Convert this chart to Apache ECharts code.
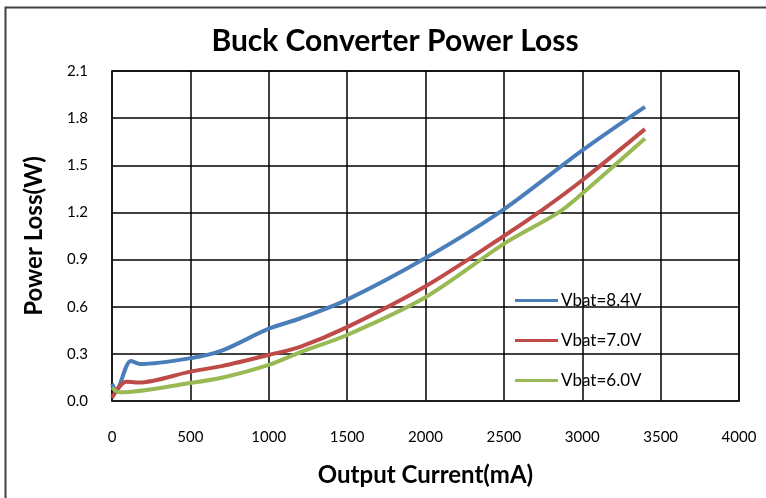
<!DOCTYPE html>
<html><head><meta charset="utf-8">
<script src="https://cdn.jsdelivr.net/npm/echarts@6/dist/echarts.min.js"></script>
<style>html,body{margin:0;padding:0;background:#fff}#c{width:766px;height:498px}</style>
</head><body><div id="c"></div>
<script>
var xTicks = [0,500,1000,1500,2000,2500,3000,3500,4000];
var yTicks = [0.0,0.3,0.6,0.9,1.2,1.5,1.8,2.1];
var seriesNames = ['Vbat=8.4V','Vbat=7.0V','Vbat=6.0V'];
var current84 = [0,25,120,180,500,700,1000,1200,1500,2000,2500,3000,3400];
var loss84    = [0.11,0.07,0.255,0.235,0.272,0.32,0.46,0.525,0.645,0.91,1.22,1.595,1.872];
var current70 = [0,90,170,500,700,1000,1200,1500,2000,2500,2750,3000,3400];
var loss70    = [0.02,0.123,0.117,0.187,0.222,0.293,0.345,0.47,0.73,1.05,1.22,1.405,1.73];
var current60 = [0,50,500,700,1000,1200,1500,2000,2500,2850,3000,3400];
var loss60    = [0.085,0.055,0.115,0.148,0.23,0.31,0.42,0.66,1.0,1.2,1.32,1.67];
var colors = ['#4A7EBB','#BE4B48','#98B954'];

function pairs(xs, ys){ return xs.map(function(x,i){return [x, ys[i]];}); }
var FONT = 'Lato, "Open Sans", sans-serif';
var chart = echarts.init(document.getElementById('c'), null, {renderer:'canvas'});
chart.setOption({
  animation:false,
  textStyle:{fontFamily:FONT},
  title:{text:'Buck Converter Power Loss', left:390, textAlign:'center', top:21,
    textStyle:{fontFamily:FONT, fontSize:30, fontWeight:'bold', color:'#000'}},
  graphic:[{type:'rect', shape:{x:5.5,y:7.5,width:900,height:700}, style:{fill:null, stroke:'#404040', lineWidth:2}, z:100}],
  grid:{left:112, right:27, top:71, bottom:97, show:true, borderColor:'#222', borderWidth:1.5},
  legend:{orient:'vertical', left:510, top:287, itemGap:23, itemWidth:43, itemHeight:15,
    icon:'path://M0,6L43,6L43,9L0,9Z',
    data:seriesNames, textStyle:{fontFamily:FONT, fontSize:17, color:'#000', padding:[0,0,0,-2]}},
  xAxis:{type:'value', min:0, max:4000, interval:500,
    axisLine:{show:true, lineStyle:{color:'#222', width:1.5}}, axisTick:{show:false},
    splitLine:{show:true, lineStyle:{color:'#000', width:1.5}},
    axisLabel:{margin:29, fontSize:15, color:'#000', fontFamily:FONT,
      formatter:function(v){return xTicks.indexOf(v)>=0 ? String(v) : '';}},
    name:'Output Current(mA)', nameLocation:'middle', nameGap:62,
    nameTextStyle:{fontFamily:FONT, fontSize:24, fontWeight:'bold', color:'#000'}},
  yAxis:{type:'value', min:0, max:2.1, interval:0.3,
    axisLine:{show:true, lineStyle:{color:'#222', width:1.5}}, axisTick:{show:false},
    splitLine:{show:true, lineStyle:{color:'#000', width:1.5}},
    axisLabel:{margin:24, fontSize:15, color:'#000', fontFamily:FONT,
      formatter:function(v){return v.toFixed(1);}},
    name:'Power Loss(W)', nameLocation:'middle', nameGap:66, nameRotate:90,
    nameTextStyle:{fontFamily:FONT, fontSize:24, fontWeight:'bold', color:'#000'}},
  series:[
    {name:seriesNames[0], type:'line', data:pairs(current84,loss84), smooth:0.3, showSymbol:false, lineStyle:{width:4, color:colors[0]}, itemStyle:{color:colors[0]}},
    {name:seriesNames[1], type:'line', data:pairs(current70,loss70), smooth:0.3, showSymbol:false, lineStyle:{width:4, color:colors[1]}, itemStyle:{color:colors[1]}},
    {name:seriesNames[2], type:'line', data:pairs(current60,loss60), smooth:0.3, showSymbol:false, lineStyle:{width:4, color:colors[2]}, itemStyle:{color:colors[2]}}
  ]
});
</script></body></html>
